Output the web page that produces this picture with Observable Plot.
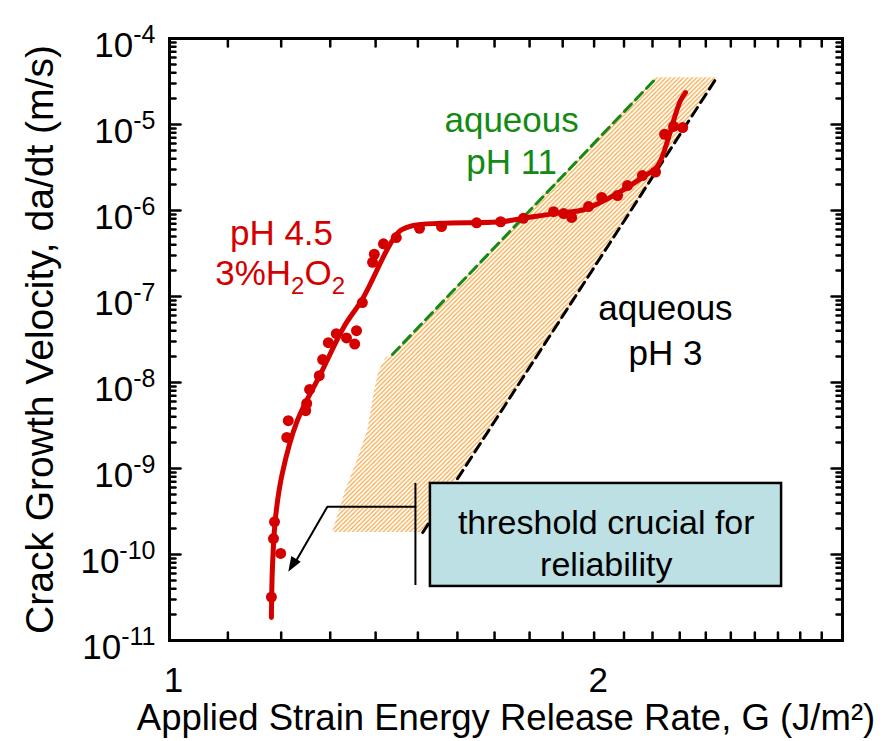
<!DOCTYPE html>
<html><head><meta charset="utf-8">
<script src="https://cdn.jsdelivr.net/npm/d3@7"></script>
<script src="https://cdn.jsdelivr.net/npm/@observablehq/plot@0.6"></script>
<style>
body{margin:0;background:#fff}
svg{font-family:"Liberation Sans",Arial,Helvetica,sans-serif}
</style>
</head><body><div id="chart"></div>
<script>
// ---- data ----
const measuredG = [1.181,1.185,1.187,1.199,1.211,1.214,1.249,1.251,1.257,1.277,1.284,1.296,1.313,1.335,1.353,1.357,1.370,1.393,1.397,1.418,1.448,1.504,1.559,1.651,1.717,1.782,1.872,1.903,1.928,1.982,2.025,2.078,2.112,2.164,2.211,2.244,2.277,2.311];
const measuredV = [3.2e-11,1.53e-10,2.4e-10,1.03e-10,2.3e-9,3.6e-9,4.7e-9,5.7e-9,8.3e-9,1.2e-8,1.85e-8,2.9e-8,3.7e-8,3.3e-8,2.8e-8,4.0e-8,8.5e-8,2.5e-7,3.1e-7,4.1e-7,4.85e-7,6.2e-7,6.5e-7,7.2e-7,7.4e-7,8.1e-7,9.7e-7,9.2e-7,8.3e-7,1.11e-6,1.42e-6,1.49e-6,1.95e-6,2.55e-6,2.8e-6,7.7e-6,9.5e-6,9.2e-6];

const fitG = [1.181,1.183,1.189,1.202,1.232,1.280,1.329,1.372,1.434,1.458,1.489,1.556,1.717,1.782,1.872,1.956,2.012,2.078,2.158,2.218,2.255,2.277,2.303,2.322];
const fitV = [1.85e-11,7.1e-11,2.7e-10,8.7e-10,3.6e-9,1.27e-8,4.4e-8,9.7e-8,4.1e-7,5.85e-7,6.7e-7,7.1e-7,7.4e-7,8.1e-7,9.2e-7,1.0e-6,1.2e-6,1.58e-6,2.35e-6,3.3e-6,6.5e-6,1.11e-5,1.9e-5,2.35e-5];

// hatched band between pH 11 (left) and pH 3 (right) limits
const bandV     = [1.8e-10,5.5e-10,1.24e-9,2.77e-9,6.7e-9,1.27e-8,1.9e-8,2.12e-8,3.5e-5];
const bandLeft  = [1.305,1.333,1.359,1.382,1.395,1.406,1.423,1.439,2.211];
const bandRight = [1.512,1.58,1.632,1.686,1.746,1.792,1.821,1.83,2.443];

const pH11G = [1.439, 2.211], pH11V = [2.12e-8, 3.4e-5];
const pH3G  = [1.512, 2.443], pH3V  = [1.8e-10, 3.5e-5];

// axis ticks
const xLabelTicks = [1, 2];
const xMinorTicks = [1.1,1.2,1.3,1.4,1.5,1.6,1.7,1.8,1.9,2.0,2.1,2.2,2.3,2.4,2.5,2.6,2.7,2.8,2.9];
const yExponents = [-11,-10,-9,-8,-7,-6,-5,-4];
const yMantissas = [2,3,4,5,6,7,8,9];

// annotation
const threshG = [1.494], threshV1 = 4.36e-11, threshV2 = 6.7e-10;
const leaderG = [1.494, 1.294, 1.225], leaderV = [3.6e-10, 3.6e-10, 7.6e-11];
const arrowTipG = [1.214], arrowTipV = [6.3e-11];
const boxG = [1.531, 2.716], boxV = [4.25e-11, 6.7e-10];

// ---- styles ----
const RED = "#d40000";
const FONT = 35;

const yMajor = yExponents.map(e => 10 ** e);
const yMinor = yExponents.slice(0, -1).flatMap(e => yMantissas.map(m => m * 10 ** e));

const tickShape = {draw(ctx, l) { ctx.moveTo(0, 0); ctx.lineTo(0, -l); }};
// filled arrow head pointing down-left (apex at origin)
const headAngle = 211 * Math.PI / 180;
const headShape = {draw(ctx) {
  const dx = Math.sin(headAngle), dy = -Math.cos(headAngle);
  const px = -dy, py = dx, L = 15, W = 5.5;
  ctx.moveTo(0, 0);
  ctx.lineTo(-L*dx + W*px, -L*dy + W*py);
  ctx.lineTo(-L*dx - W*px, -L*dy - W*py);
  ctx.closePath();
}};

const tk = {stroke: "black", strokeWidth: 2.5, anchor: "start", shape: tickShape};

const svg = Plot.plot({
  width: 891, height: 741,
  marginLeft: 169, marginRight: 49, marginTop: 38, marginBottom: 101,
  x: {type: "log", domain: [1, 3]},
  y: {type: "log", domain: [1e-11, 1e-4]},
  marks: [
    Plot.areaX(bandV, {y: bandV, x1: bandLeft, x2: bandRight, fill: "url(#hatch)"}),
    Plot.line(pH11G, {x: pH11G, y: pH11V, stroke: "#138a13", strokeWidth: 3, strokeDasharray: "10,6"}),
    Plot.line(pH3G, {x: pH3G, y: pH3V, stroke: "black", strokeWidth: 3, strokeDasharray: "10,6"}),
    Plot.line(fitG, {x: fitG, y: fitV, stroke: RED, strokeWidth: 5, curve: "catmull-rom"}),
    Plot.dot(measuredG, {x: measuredG, y: measuredV, r: 5.5, fill: RED}),
    Plot.ruleX(threshG, {y1: threshV1, y2: threshV2, stroke: "black", strokeWidth: 2}),
    Plot.line(leaderG, {x: leaderG, y: leaderV, stroke: "black", strokeWidth: 2}),
    Plot.dot(arrowTipG, {x: arrowTipG, y: arrowTipV, symbol: headShape, fill: "black", stroke: null}),
    Plot.rect([0], {x1: boxG[0], x2: boxG[1], y1: boxV[0], y2: boxV[1], fill: "#bce0e3", stroke: "black", strokeWidth: 2.5}),
    Plot.text(["threshold crucial for\nreliability"], {x: 2.04, y: 1.42e-10, fontSize: 34, lineHeight: 1.24, fill: "black"}),
    Plot.text(["aqueous\npH 11"], {x: 1.748, y: 6.7e-6, fontSize: FONT, lineHeight: 1.22, fill: "#138a13"}),
    Plot.text(["aqueous\npH 3"], {x: 2.247, y: 4.3e-8, fontSize: FONT, lineHeight: 1.29, fill: "black"}),
    Plot.text(["pH 4.5"], {x: 1.2006, y: 5.4e-7, fontSize: FONT, fill: RED}),
    Plot.text(["3%H2O2"], {x: 1.198, y: 1.85e-7, fontSize: FONT, fill: RED}),
    Plot.frame({stroke: "black", strokeWidth: 3}),
    // inward ticks
    Plot.vector(xMinorTicks, {x: d => d, frameAnchor: "bottom", rotate: 0, length: 8, ...tk}),
    Plot.vector(xMinorTicks, {x: d => d, frameAnchor: "top", rotate: 180, length: 8, ...tk}),
    Plot.vector(yMajor, {y: d => d, frameAnchor: "left", rotate: 90, length: 11, ...tk}),
    Plot.vector(yMinor, {y: d => d, frameAnchor: "left", rotate: 90, length: 6, ...tk}),
    Plot.vector(yMajor, {y: d => d, frameAnchor: "right", rotate: -90, length: 11, ...tk}),
    Plot.vector(yMinor, {y: d => d, frameAnchor: "right", rotate: -90, length: 6, ...tk}),
    // labels
    Plot.axisX(xLabelTicks, {anchor: "bottom", tickSize: 0, tickPadding: 27, fontSize: FONT, tickFormat: d => String(d), label: null, dx: 4}),
    Plot.axisY(yMajor, {anchor: "left", tickSize: 0, tickPadding: 14, fontSize: FONT, tickFormat: d => "10^" + Math.round(Math.log10(d)), label: null}),
    Plot.text(["Applied Strain Energy Release Rate, G (J/m²)"], {frameAnchor: "bottom", dy: 78, textAnchor: "middle", lineAnchor: "middle", fontSize: 36.5, fill: "black"}),
    Plot.text(["Crack Growth Velocity, da/dt (m/s)"], {frameAnchor: "left", dx: -129, rotate: -90, textAnchor: "middle", lineAnchor: "middle", fontSize: 39, fill: "black"})
  ]
});

// pattern for hatched band
const NS = "http://www.w3.org/2000/svg";
const defs = document.createElementNS(NS, "defs");
defs.innerHTML = `<pattern id="hatch" patternUnits="userSpaceOnUse" width="4.4" height="4.4">
  <rect width="4.4" height="4.4" fill="#ffffff"/>
  <path d="M-1,1 L1,-1 M0,4.4 L4.4,0 M3.4,5.4 L5.4,3.4" stroke="#f7a43c" stroke-width="1.1"/>
</pattern>`;
svg.prepend(defs);

// superscripts / subscripts
svg.querySelectorAll("text").forEach(t => {
  const s = t.textContent;
  let m = s.match(/^10\^(-?\d+)$/);
  if (m) {
    t.textContent = "10";
    const sup = document.createElementNS(NS, "tspan");
    sup.setAttribute("font-size", "25");
    sup.setAttribute("dy", "-14");
    sup.textContent = m[1];
    t.appendChild(sup);
    t.setAttribute("transform", (t.getAttribute("transform") || "") + " translate(0,7)");
  } else if (s === "3%H2O2") {
    t.textContent = "";
    const parts = [["3%H", null, null], ["2", "24", "9"], ["O", FONT, "-9"], ["2", "24", "9"]];
    for (const [txt, fs, dy] of parts) {
      const sp = document.createElementNS(NS, "tspan");
      if (fs) sp.setAttribute("font-size", fs);
      if (dy) sp.setAttribute("dy", dy);
      sp.textContent = txt;
      t.appendChild(sp);
    }
  }
});

document.getElementById("chart").appendChild(svg);
</script>
</body></html>
